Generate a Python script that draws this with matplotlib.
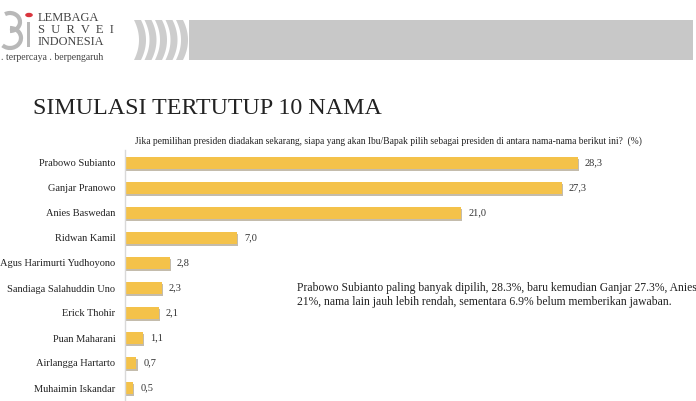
import numpy as np
import matplotlib
matplotlib.use("Agg")
import matplotlib.pyplot as plt
import matplotlib.patheffects as pe
from matplotlib.patches import Polygon, Rectangle, Arc, Circle

# data
names = ["Prabowo Subianto", "Ganjar Pranowo", "Anies Baswedan", "Ridwan Kamil",
         "Agus Harimurti Yudhoyono", "Sandiaga Salahuddin Uno", "Erick Thohir",
         "Puan Maharani", "Airlangga Hartarto", "Muhaimin Iskandar"]
values = [28.3, 27.3, 21.0, 7.0, 2.8, 2.3, 2.1, 1.1, 0.7, 0.5]

title = "SIMULASI TERTUTUP 10 NAMA"
question = ("Jika pemilihan presiden diadakan sekarang, siapa yang akan Ibu/Bapak pilih "
            "sebagai presiden di antara nama-nama berikut ini?  (%)")
note = ("Prabowo Subianto paling banyak dipilih, 28.3%, baru kemudian Ganjar 27.3%, Anies\n"
        "21%, nama lain jauh lebih rendah, sementara 6.9% belum memberikan jawaban.")

serif = "Liberation Serif"
W, H = 696, 401
bar_color = "#F4C24A"

fig = plt.figure(figsize=(W / 100, H / 100), dpi=100)

def fx(px):
    return px / W

def fy(py):
    return 1 - py / H

# header band + curved stripes
fig.patches.append(Rectangle((fx(189), fy(60)), fx(693) - fx(189), fy(20) - fy(60),
                             transform=fig.transFigure, color="#c8c8c8", lw=0))
for i in range(5):
    x0 = 134 + i * 10.5
    ys = np.linspace(20, 60, 30)
    bulge = 5 * (1 - ((ys - 40) / 20) ** 2)
    left = [(fx(x0 + b), fy(yy)) for yy, b in zip(ys, bulge)]
    right = [(fx(x0 + 7 + b), fy(yy)) for yy, b in zip(ys[::-1], bulge[::-1])]
    fig.patches.append(Polygon(left + right, closed=True, transform=fig.transFigure,
                               color="#cdcdcd", lw=0))

# logo (simple arcs + "i" with red dot)
logo_gray = "#b8b8b8"
fig.patches.append(Arc((fx(10), fy(22)), fx(20), fy(0) - fy(18), theta1=-90, theta2=110,
                       transform=fig.transFigure, color=logo_gray, lw=3))
fig.patches.append(Arc((fx(10), fy(38)), fx(22), fy(0) - fy(20), theta1=-120, theta2=90,
                       transform=fig.transFigure, color=logo_gray, lw=3))
fig.patches.append(Rectangle((fx(26.5), fy(47)), fx(3.5), fy(22) - fy(47),
                             transform=fig.transFigure, color=logo_gray, lw=0))
fig.patches.append(Circle((fx(29), fy(15)), 0.0055, transform=fig.transFigure,
                          color="#d9363e", lw=0))
fig.text(fx(38), fy(21), "LEMBAGA", fontsize=9, family=serif, color="#444444", va="baseline")
fig.text(fx(38), fy(33), "S  U  R  V  E  I", fontsize=9, family=serif, color="#444444",
         va="baseline")
fig.text(fx(38), fy(45), "INDONESIA", fontsize=8.8, family=serif, color="#444444", va="baseline")
fig.text(fx(1), fy(60), ". terpercaya . berpengaruh", fontsize=7, family=serif,
         color="#444444", va="baseline")

# titles
fig.text(fx(33), fy(113.5), title, fontsize=17.3, family=serif, color="#222222", va="baseline")
fig.text(fx(135), fy(144), question, fontsize=6.85, family=serif, color="#222222", va="baseline")

# bar chart
ax = fig.add_axes([fx(125), fy(400.5), fx(605) - fx(125), fy(150.5) - fy(400.5)])
y = np.arange(len(names))
bars = ax.barh(y, values, height=0.48, color=bar_color)
for b in bars:
    b.set_path_effects([pe.SimplePatchShadow(offset=(1.0, -1.3), shadow_rgbFace="#8a7a5a",
                                             alpha=0.5), pe.Normal()])
for yi, v in zip(y, values):
    ax.text(v + 0.45, yi, f"{v:.1f}".replace(".", ","), va="center", ha="left",
            fontsize=7.5, family=serif, color="#333333")

ax.set_xlim(0, 30)
ax.set_ylim(len(names) - 0.5, -0.5)
ax.set_yticks(y)
ax.set_yticklabels(names, fontsize=7.5, family=serif, color="#222222")
ax.tick_params(axis="y", length=0, pad=7)
ax.set_xticks([])
for s in ["top", "right", "bottom"]:
    ax.spines[s].set_visible(False)
ax.spines["left"].set_color("#d9d9d9")
ax.spines["left"].set_linewidth(1)
ax.patch.set_alpha(0)

# note
fig.text(fx(297), fy(295), note, fontsize=8.35, family=serif, color="#222222",
         va="center", linespacing=1.3)

fig.savefig("out.png", dpi=100)
